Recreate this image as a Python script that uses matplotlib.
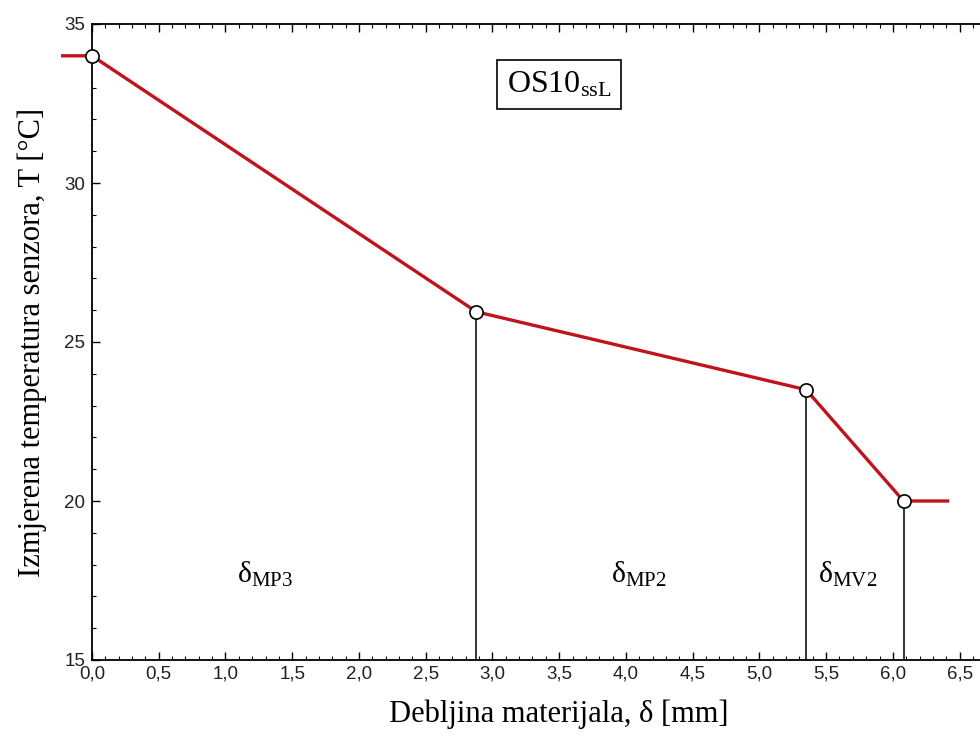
import matplotlib
matplotlib.use('Agg')
import matplotlib.pyplot as plt
from matplotlib.ticker import MultipleLocator, FuncFormatter

# podaci očitani sa slike
delta = [0.0, 2.88, 5.35, 6.08]          # debljina [mm]
temp = [34.0, 25.95, 23.5, 20.0]         # temperatura [°C]
ext_left = [-0.22, 34.0]
ext_right = [6.41, 20.0]
zone_names = ['MP3', 'MP2', 'MV2']
zone_x = [1.30, 4.10, 5.66]
zone_y = 17.7

fig = plt.figure(figsize=(9.8, 7.49), dpi=100)
# os se nastavlja desno izvan slike (kao na originalu)
ax = fig.add_axes([92 / 980, 89 / 749, 933 / 980, 636 / 749])

red = '#c0141c'
xs = [ext_left[0]] + delta + [ext_right[0]]
ys = [ext_left[1]] + temp + [ext_right[1]]
ax.plot(xs, ys, color=red, linewidth=2.4, clip_on=False, zorder=3)
ax.plot(delta, temp, 'o', markerfacecolor='white', markeredgecolor='black',
        markersize=9.5, markeredgewidth=1.2, clip_on=False, zorder=4)

# vertikalne linije od tocaka do osi x
for d, t in zip(delta[1:], temp[1:]):
    ax.plot([d, d], [15, t], color='black', linewidth=1.1, zorder=2)

for name, x in zip(zone_names, zone_x):
    ax.text(x, zone_y, r'$\mathregular{\delta_{%s}}$' % name, fontsize=21.5,
            family='Liberation Serif', ha='center', va='center')

ax.text(3.5, 33.1, r'$\mathregular{OS10_{ssL}}$', fontsize=23,
        family='Liberation Serif', ha='center', va='center',
        bbox=dict(boxstyle='square,pad=0.3', facecolor='white',
                  edgecolor='black', linewidth=1.2))

ax.set_xlim(0, 6.99)
ax.set_ylim(15, 35)
ax.xaxis.set_major_locator(MultipleLocator(0.5))
ax.xaxis.set_minor_locator(MultipleLocator(0.1))
ax.yaxis.set_major_locator(MultipleLocator(5))
ax.yaxis.set_minor_locator(MultipleLocator(1))
ax.xaxis.set_major_formatter(FuncFormatter(lambda v, p: ('%.1f' % v).replace('.', ',')))
ax.yaxis.set_major_formatter(FuncFormatter(lambda v, p: '%d' % v))
ax.tick_params(which='both', direction='in', top=True, right=False,
               labelsize=13.5, labelcolor='#222222',
               labelfontfamily='Liberation Sans')
ax.tick_params(which='major', length=6, width=1)
ax.tick_params(which='minor', length=3, width=0.8)
ax.tick_params(axis='x', pad=4)
ax.tick_params(axis='y', pad=5)
ax.spines['right'].set_visible(False)
for s in ['left', 'bottom', 'top']:
    ax.spines[s].set_linewidth(1.3)

ax.set_xlabel('Debljina materijala, δ [mm]', fontsize=22,
              family='Liberation Serif', labelpad=12)
ax.set_ylabel('Izmjerena temperatura senzora, T [°C]', fontsize=22,
              family='Liberation Serif')
ax.yaxis.set_label_coords(-45 / 933, 0.5)

fig.savefig('out.png', dpi=100)
